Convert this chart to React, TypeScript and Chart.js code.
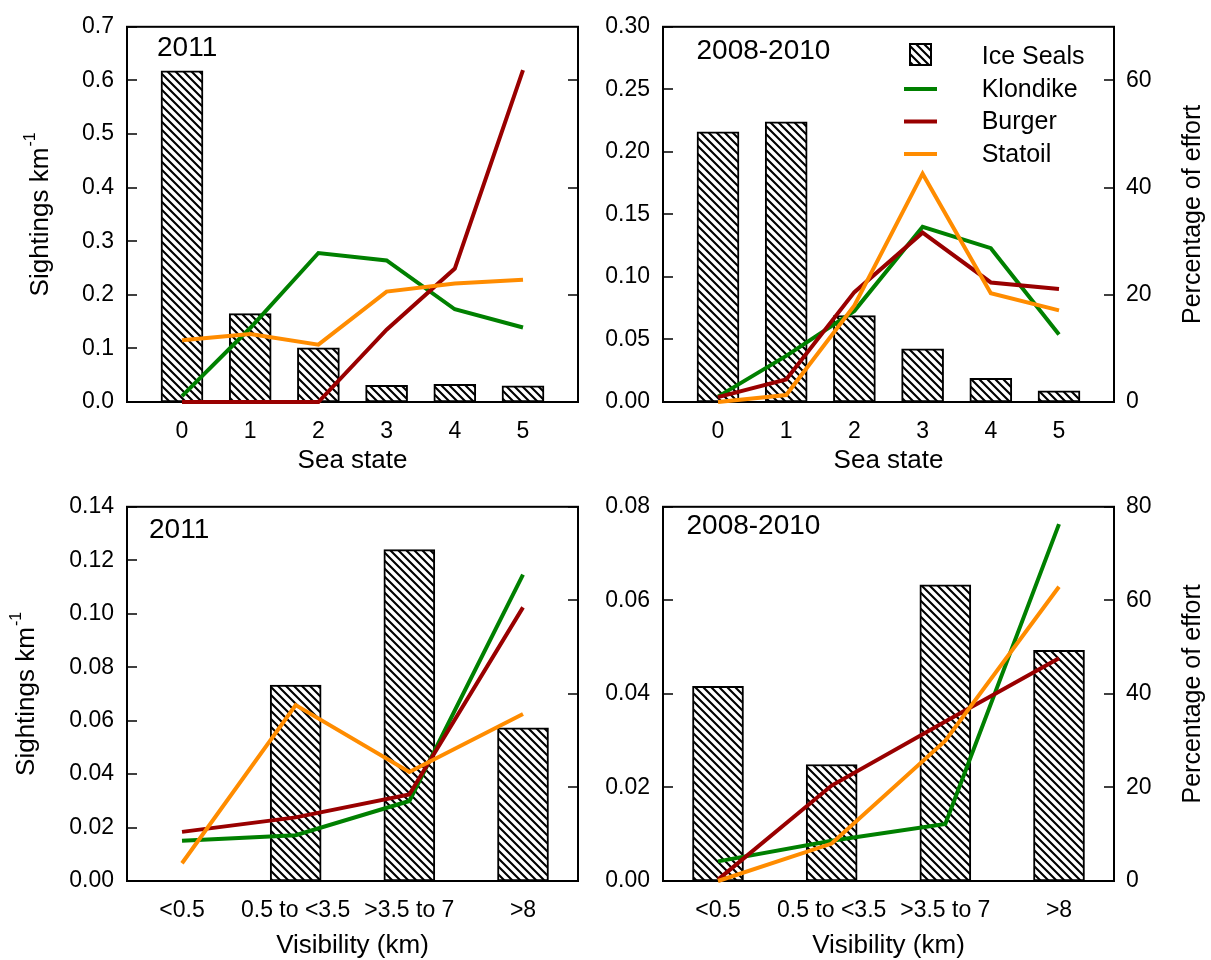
import React, { useEffect, useRef } from 'react';
import { Chart, registerables } from 'chart.js';
Chart.register(...registerables);

const FONT = '"Liberation Sans", Arial, sans-serif';
const GREEN = 'rgb(0,128,0)';
const RED = 'rgb(153,0,0)';
const ORANGE = 'rgb(255,140,0)';

// Categories
const seaStates = ['0', '1', '2', '3', '4', '5'];
const visibility = ['<0.5', '0.5 to <3.5', '>3.5 to 7', '>8'];

// Tick values
const ticksSea2011 = [0, 0.1, 0.2, 0.3, 0.4, 0.5, 0.6, 0.7];
const ticksSea0810 = [0, 0.05, 0.1, 0.15, 0.2, 0.25, 0.3];
const ticksVis2011 = [0, 0.02, 0.04, 0.06, 0.08, 0.1, 0.12, 0.14];
const ticksVis0810 = [0, 0.02, 0.04, 0.06, 0.08];
const effortTicksSea = [0, 20, 40, 60];
const effortTicksVis = [0, 20, 40, 60, 80];

// Sea state, 2011
const seals2011Sea = [0.618, 0.165, 0.101, 0.031, 0.033, 0.030];
const klondike2011Sea = [1.1, 13.8, 27.8, 26.4, 17.3, 13.9];
const burger2011Sea = [0, 0, 0, 13.5, 24.9, 61.9];
const statoil2011Sea = [11.5, 12.7, 10.7, 20.6, 22.1, 22.8];

// Sea state, 2008-2010
const seals0810Sea = [0.216, 0.224, 0.069, 0.0425, 0.019, 0.0089];
const klondike0810Sea = [1.0, 8.6, 17.0, 32.7, 28.7, 12.6];
const burger0810Sea = [0.9, 4.2, 20.5, 31.6, 22.3, 21.1];
const statoil0810Sea = [0, 1.3, 18.0, 42.6, 20.3, 17.1];

// Visibility, 2011
const seals2011Vis = [null, 0.0733, 0.124, 0.0573];
const klondike2011Vis = [8.6, 9.8, 17.1, 65.5];
const burger2011Vis = [10.5, 13.6, 18.5, 58.5];
const statoil2011Vis = [3.8, 37.6, 23.3, 35.7];

// Visibility, 2008-2010
const seals0810Vis = [0.0416, 0.0249, 0.0633, 0.0493];
const klondike0810Vis = [4.2, 8.6, 12.2, 76.3];
const burger0810Vis = [0.3, 20.4, 34.1, 47.6];
const statoil0810Vis = [0, 8.0, 30.0, 62.9];

type Panel = {
  left: number; top: number; width: number; height: number;
  leftAxisW: number; rightAxisW: number; padTop: number; xAxisH: number;
  labels: string[]; bars: (number | null)[]; kl: number[]; bu: number[]; st: number[];
  yMax: number; yTicks: number[]; yDec: number; y1Max: number; y1Ticks: number[];
  showRightLabels: boolean; barW: number;
  panelLabel: string; labelX: number; labelY: number;
  xTitle: string; xTitleBase: number;
  leftTitleX: number | null; rightTitleX: number | null; legend: boolean;
};

const panels: Panel[] = [
  {
    left: 0, top: 0, width: 600, height: 480, leftAxisW: 127, rightAxisW: 22, padTop: 19, xAxisH: 78,
    labels: seaStates, bars: seals2011Sea, kl: klondike2011Sea, bu: burger2011Sea, st: statoil2011Sea,
    yMax: 0.7, yTicks: ticksSea2011, yDec: 1, y1Max: 70, y1Ticks: effortTicksSea, showRightLabels: false, barW: 42,
    panelLabel: '2011', labelX: 157, labelY: 48.5, xTitle: 'Sea state', xTitleBase: 468,
    leftTitleX: 41, rightTitleX: null, legend: false,
  },
  {
    left: 600, top: 0, width: 611, height: 480, leftAxisW: 63, rightAxisW: 97, padTop: 19, xAxisH: 78,
    labels: seaStates, bars: seals0810Sea, kl: klondike0810Sea, bu: burger0810Sea, st: statoil0810Sea,
    yMax: 0.3, yTicks: ticksSea0810, yDec: 2, y1Max: 70, y1Ticks: effortTicksSea, showRightLabels: true, barW: 42,
    panelLabel: '2008-2010', labelX: 96.5, labelY: 51, xTitle: 'Sea state', xTitleBase: 468,
    leftTitleX: null, rightTitleX: 593, legend: true,
  },
  {
    left: 0, top: 480, width: 600, height: 480, leftAxisW: 127, rightAxisW: 22, padTop: 19, xAxisH: 79,
    labels: visibility, bars: seals2011Vis, kl: klondike2011Vis, bu: burger2011Vis, st: statoil2011Vis,
    yMax: 0.14, yTicks: ticksVis2011, yDec: 2, y1Max: 80, y1Ticks: effortTicksVis, showRightLabels: false, barW: 51,
    panelLabel: '2011', labelX: 149, labelY: 50, xTitle: 'Visibility (km)', xTitleBase: 472.5,
    leftTitleX: 26.5, rightTitleX: null, legend: false,
  },
  {
    left: 600, top: 480, width: 611, height: 480, leftAxisW: 63, rightAxisW: 97, padTop: 19, xAxisH: 79,
    labels: visibility, bars: seals0810Vis, kl: klondike0810Vis, bu: burger0810Vis, st: statoil0810Vis,
    yMax: 0.08, yTicks: ticksVis0810, yDec: 2, y1Max: 80, y1Ticks: effortTicksVis, showRightLabels: true, barW: 51,
    panelLabel: '2008-2010', labelX: 86.5, labelY: 46, xTitle: 'Visibility (km)', xTitleBase: 472.5,
    leftTitleX: null, rightTitleX: 593, legend: false,
  },
];

function makeHatch(ctx: CanvasRenderingContext2D): CanvasPattern {
  const s = 8;
  const c = document.createElement('canvas');
  c.width = s; c.height = s;
  const g = c.getContext('2d')!;
  g.fillStyle = '#fff';
  g.fillRect(0, 0, s, s);
  g.strokeStyle = '#000';
  g.lineWidth = 2.1;
  g.beginPath();
  g.moveTo(-1, -1); g.lineTo(s + 1, s + 1);
  g.moveTo(-1, s - 1); g.lineTo(1, s + 1);
  g.moveTo(s - 1, -1); g.lineTo(s + 1, 1);
  g.stroke();
  return ctx.createPattern(c, 'repeat')!;
}

function buildConfig(p: Panel, hatch: CanvasPattern): any {
  const n = p.labels.length;
  const spacing = (451 - 110) / (n - 1);
  const marg = 55 / spacing;
  const lineDs = (label: string, data: number[], color: string, order: number) => ({
    type: 'line', label, data: data.map((v, i) => ({ x: i, y: v })), yAxisID: 'y1',
    borderColor: color, backgroundColor: color, borderWidth: 4, pointRadius: 0, pointHoverRadius: 0,
    tension: 0, fill: false, order, clip: false,
  });
  const decor = {
    id: 'decor' + p.left + p.top,
    beforeDatasetsDraw(chart: any) {
      const ctx = chart.ctx; const a = chart.chartArea;
      ctx.save();
      ctx.strokeStyle = '#000';
      ctx.lineWidth = 1.5;
      const ys = chart.scales.y;
      ys.ticks.forEach((t: any) => {
        const py = Math.round(ys.getPixelForValue(t.value));
        ctx.beginPath(); ctx.moveTo(a.left, py); ctx.lineTo(a.left + 10, py); ctx.stroke();
      });
      const y1 = chart.scales.y1;
      y1.ticks.forEach((t: any) => {
        const py = Math.round(y1.getPixelForValue(t.value));
        ctx.beginPath(); ctx.moveTo(a.right - 10, py); ctx.lineTo(a.right, py); ctx.stroke();
      });
      ctx.lineWidth = 2;
      ctx.strokeRect(a.left, a.top, a.right - a.left, a.bottom - a.top);
      ctx.restore();
    },
    afterDraw(chart: any) {
      const ctx = chart.ctx; const a = chart.chartArea;
      const cy = (a.top + a.bottom) / 2;
      ctx.save();
      ctx.fillStyle = '#000';
      // panel label
      ctx.font = `28px ${FONT}`;
      ctx.textAlign = 'left'; ctx.textBaseline = 'middle';
      ctx.fillText(p.panelLabel, p.labelX, p.labelY);
      // x title
      ctx.font = `26px ${FONT}`;
      ctx.textAlign = 'center'; ctx.textBaseline = 'alphabetic';
      ctx.fillText(p.xTitle, (a.left + a.right) / 2, p.xTitleBase);
      // left title with superscript
      if (p.leftTitleX !== null) {
        const main = 'Sightings km'; const sup = '-1';
        ctx.font = `26px ${FONT}`;
        const w1 = ctx.measureText(main).width;
        ctx.font = `16px ${FONT}`;
        const w2 = ctx.measureText(sup).width;
        const total = w1 + 1 + w2;
        ctx.save();
        ctx.translate(p.leftTitleX, cy);
        ctx.rotate(-Math.PI / 2);
        ctx.textAlign = 'left'; ctx.textBaseline = 'middle';
        ctx.font = `26px ${FONT}`;
        ctx.fillText(main, -total / 2, 0);
        ctx.font = `16px ${FONT}`;
        ctx.fillText(sup, -total / 2 + w1 + 1, -10);
        ctx.restore();
      }
      if (p.rightTitleX !== null) {
        ctx.save();
        ctx.translate(p.rightTitleX, cy);
        ctx.rotate(-Math.PI / 2);
        ctx.textAlign = 'center'; ctx.textBaseline = 'middle';
        ctx.font = `25px ${FONT}`;
        ctx.fillText('Percentage of effort', 0, 0);
        ctx.restore();
      }
      if (p.legend) {
        const sx = 310, tx = 381.7;
        ctx.fillStyle = hatch;
        ctx.fillRect(sx, 44, 21, 21);
        ctx.strokeStyle = '#000'; ctx.lineWidth = 2;
        ctx.strokeRect(sx, 44, 21, 21);
        const rows: [string, string, number][] = [
          ['Klondike', GREEN, 89], ['Burger', RED, 121.5], ['Statoil', ORANGE, 154],
        ];
        ctx.lineWidth = 4;
        rows.forEach(([, col, y]) => {
          ctx.strokeStyle = col;
          ctx.beginPath(); ctx.moveTo(304, y); ctx.lineTo(337, y); ctx.stroke();
        });
        ctx.fillStyle = '#000';
        ctx.font = `25px ${FONT}`;
        ctx.textAlign = 'left'; ctx.textBaseline = 'middle';
        ctx.fillText('Ice Seals', tx, 57);
        rows.forEach(([name, , y]) => ctx.fillText(name, tx, y + 1));
      }
      ctx.restore();
    },
  };
  return {
    type: 'bar',
    data: {
      datasets: [
        lineDs('Statoil', p.st, ORANGE, 1),
        lineDs('Burger', p.bu, RED, 2),
        lineDs('Klondike', p.kl, GREEN, 3),
        {
          type: 'bar', label: 'Ice Seals', data: p.bars.map((v, i) => ({ x: i, y: v })), yAxisID: 'y',
          backgroundColor: hatch, borderColor: '#000', borderWidth: 2, borderSkipped: false,
          barThickness: p.barW, order: 10,
        },
      ],
    },
    options: {
      responsive: false, animation: false, devicePixelRatio: 1,
      layout: { padding: { top: p.padTop, left: 0, right: 0, bottom: 0 } },
      plugins: { legend: { display: false }, tooltip: { enabled: false } },
      events: [],
      scales: {
        x: {
          type: 'linear', min: -marg, max: n - 1 + marg, offset: false,
          grid: { display: false, offset: false, drawTicks: false }, border: { display: false },
          afterBuildTicks: (s: any) => { s.ticks = p.labels.map((_, i) => ({ value: i })); },
          ticks: {
            autoSkip: false, maxRotation: 0, minRotation: 0, padding: 16, color: '#000',
            font: { family: FONT, size: 23 },
            callback: (v: any) => p.labels[Math.round(Number(v))] ?? '',
          },
          afterFit: (s: any) => { s.height = p.xAxisH; },
        },
        y: {
          position: 'left', min: 0, max: p.yMax,
          grid: { display: false, drawTicks: false }, border: { display: false },
          afterBuildTicks: (s: any) => { s.ticks = p.yTicks.map((v) => ({ value: v })); },
          ticks: {
            padding: 13, color: '#000', font: { family: FONT, size: 23 },
            callback: (v: any) => Number(v).toFixed(p.yDec),
          },
          afterFit: (s: any) => { s.width = p.leftAxisW; },
        },
        y1: {
          position: 'right', min: 0, max: p.y1Max,
          grid: { display: false, drawTicks: false }, border: { display: false },
          afterBuildTicks: (s: any) => { s.ticks = p.y1Ticks.map((v) => ({ value: v })); },
          ticks: {
            display: p.showRightLabels, padding: 12, color: '#000', font: { family: FONT, size: 23 },
            callback: (v: any) => String(Math.round(Number(v))),
          },
          afterFit: (s: any) => { s.width = p.rightAxisW; },
        },
      },
    },
    plugins: [decor],
  };
}

function PanelChart({ p }: { p: Panel }) {
  const ref = useRef<HTMLCanvasElement>(null);
  useEffect(() => {
    const canvas = ref.current!;
    const hatch = makeHatch(canvas.getContext('2d')!);
    const chart = new Chart(canvas, buildConfig(p, hatch));
    return () => chart.destroy();
  }, []);
  return (
    <canvas
      ref={ref}
      width={p.width}
      height={p.height}
      style={{ position: 'absolute', left: p.left, top: p.top, width: p.width, height: p.height }}
    />
  );
}

export default function App() {
  return (
    <div style={{ position: 'absolute', left: 0, top: 0, width: 1211, height: 960, background: '#fff' }}>
      {panels.map((p, i) => <PanelChart key={i} p={p} />)}
    </div>
  );
}
